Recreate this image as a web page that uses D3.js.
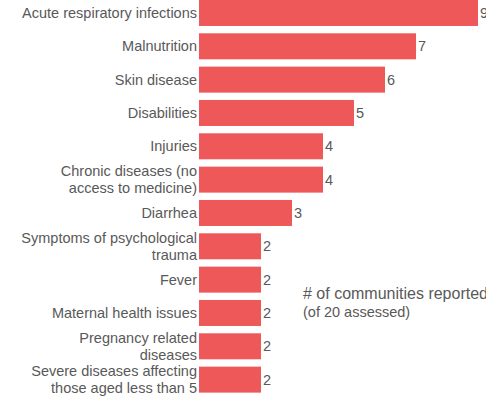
<!DOCTYPE html>
<html>
<head>
<meta charset="utf-8">
<script src="https://cdn.jsdelivr.net/npm/d3@7"></script>
<style>
  body { margin: 0; background: #fff; }
  svg { display: block; }
</style>
</head>
<body>
<div id="chart"></div>
<script>
// health issues reported, by number of communities
const categories = [
    "Acute respiratory infections",
    "Malnutrition",
    "Skin disease",
    "Disabilities",
    "Injuries",
    "Chronic diseases (no|access to medicine)",
    "Diarrhea",
    "Symptoms of psychological|trauma",
    "Fever",
    "Maternal health issues",
    "Pregnancy related|diseases",
    "Severe diseases affecting|those aged less than 5"
];
const values = [9, 7, 6, 5, 4, 4, 3, 2, 2, 2, 2, 2];
const noteLines = ["# of communities reported", "(of 20 assessed)"];

const width = 486;
const height = 398;
const barColor = "#ef5858";
const textColor = "#595959";
const fontSize = "14.5px";

const svg = d3.select("#chart")
    .append("svg")
    .attr("width", width)
    .attr("height", height)
    .style("font-family", "'Liberation Sans', Arial, sans-serif");

const x = d3.scaleLinear()
    .domain([0, 9])
    .range([199, 478]);

const y = d3.scaleBand()
    .domain(categories)
    .range([-3.7, 396.3])
    .paddingInner(0.22)
    .paddingOuter(0.11);

const rows = svg.append("g")
    .selectAll("g")
    .data(categories)
    .join("g")
    .attr("transform", d => `translate(0, ${y(d) + y.bandwidth() / 2})`);

rows.append("rect")
    .attr("x", x(0))
    .attr("y", -y.bandwidth() / 2)
    .attr("width", (d, i) => x(values[i]) - x(0))
    .attr("height", y.bandwidth())
    .attr("fill", barColor);

rows.append("text")
    .attr("x", (d, i) => x(values[i]) + 2)
    .attr("dy", "0.35em")
    .attr("fill", textColor)
    .style("font-size", fontSize)
    .text((d, i) => values[i]);

// category labels, some wrap onto two lines
rows.append("text")
    .attr("text-anchor", "end")
    .attr("fill", textColor)
    .style("font-size", fontSize)
    .each(function(d) {
        const lines = d.split("|");
        const lh = 17.5;
        const t = d3.select(this);
        lines.forEach((line, j) => {
            t.append("tspan")
                .attr("x", 197)
                .attr("y", (j - (lines.length - 1) / 2) * lh)
                .attr("dy", "0.35em")
                .text(line);
        });
    });

// note on the right, first line a bit larger
svg.append("g")
    .selectAll("text")
    .data(noteLines)
    .join("text")
    .attr("x", 303)
    .attr("y", (d, j) => 293.5 + j * 18.3)
    .attr("dy", "0.35em")
    .attr("fill", textColor)
    .style("font-size", (d, j) => j === 0 ? "16px" : fontSize)
    .text(d => d);
</script>
</body>
</html>
